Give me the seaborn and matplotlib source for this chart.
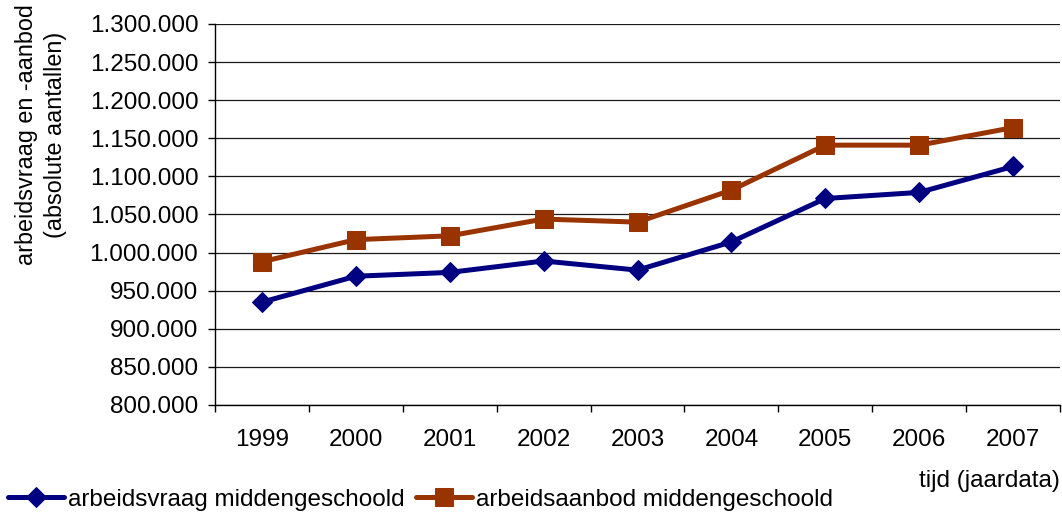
import matplotlib
matplotlib.use("Agg")
import matplotlib.pyplot as plt
import matplotlib.ticker as mticker
import seaborn as sns
import pandas as pd
import numpy as np

years = ["1999", "2000", "2001", "2002", "2003", "2004", "2005", "2006", "2007"]
vraag = [935000, 969000, 974000, 989000, 977000, 1014000, 1071000, 1079000, 1113000]
aanbod = [988000, 1017000, 1022000, 1044000, 1040000, 1082000, 1141000, 1141000, 1164000]
series_names = ["arbeidsvraag middengeschoold", "arbeidsaanbod middengeschoold"]
colors = ["#000080", "#993300"]
markers = ["D", "s"]
y_ticks = list(range(800000, 1300001, 50000))

sns.set_style("white")
plt.rcParams["font.family"] = ["Liberation Sans", "DejaVu Sans"]
plt.rcParams["text.color"] = "black"
plt.rcParams["axes.labelcolor"] = "black"
plt.rcParams["xtick.color"] = "black"
plt.rcParams["ytick.color"] = "black"
FS = 17.5

df = pd.DataFrame({
    "pos": list(range(len(years))) * 2,
    "value": vraag + aanbod,
    "serie": [series_names[0]] * len(years) + [series_names[1]] * len(years),
})

fig = plt.figure(figsize=(10.62, 5.16), dpi=100)
ax = fig.add_axes([215 / 1062, 1 - 405 / 516, (1060 - 215) / 1062, (405 - 24) / 516])

for name, c, m, ms in zip(series_names, colors, markers, [10.2, 13]):
    sns.lineplot(data=df[df["serie"] == name], x="pos", y="value", ax=ax,
                 color=c, marker=m, markersize=ms, markeredgecolor=c,
                 linewidth=3.6, label=name, legend=False, zorder=3)

ax.set_xlim(-0.5, len(years) - 0.5)
ax.set_ylim(800000, 1300000)
ax.set_yticks(y_ticks)
ax.yaxis.set_major_formatter(mticker.FuncFormatter(lambda v, p: f"{v:,.0f}".replace(",", ".")))
ax.set_xticks(range(len(years)))
ax.set_xticklabels(years)
ax.set_xticks(np.arange(-0.5, len(years), 1.0), minor=True)
ax.tick_params(axis="x", which="major", length=0, pad=17, labelsize=FS, colors="black")
ax.tick_params(axis="x", which="minor", length=5, width=1, color="black", direction="out", bottom=True)
ax.tick_params(axis="y", which="major", length=5, width=1, color="black", direction="out",
               left=True, pad=7, labelsize=FS, labelcolor="black")
ax.set_xlabel("")
ax.set_ylabel("")
ax.grid(axis="y", color="#1a1a1a", linewidth=0.9)
ax.grid(axis="x", visible=False)
for s in ["top", "right"]:
    ax.spines[s].set_visible(False)
for s in ["left", "bottom"]:
    ax.spines[s].set_color("black")
    ax.spines[s].set_linewidth(1)

fig.text(41 / 1062, 1 - 135 / 516, "arbeidsvraag en -aanbod\n(absolute aantallen)",
         rotation=90, ha="center", va="center", multialignment="center",
         fontsize=16.8, linespacing=1.3, color="black")
fig.text(1060 / 1062, 1 - 481 / 516, "tijd (jaardata)", ha="right", va="center",
         fontsize=FS, color="black")

handles, labels = ax.get_legend_handles_labels()
fig.legend(handles, labels, loc="center left", bbox_to_anchor=(8 / 1062, 1 - 500 / 516),
           ncol=2, frameon=False, fontsize=FS, borderpad=0, borderaxespad=0,
           handlelength=2.3, handletextpad=0.15, columnspacing=0.5, labelcolor="black")

fig.savefig("out.png", dpi=100)
